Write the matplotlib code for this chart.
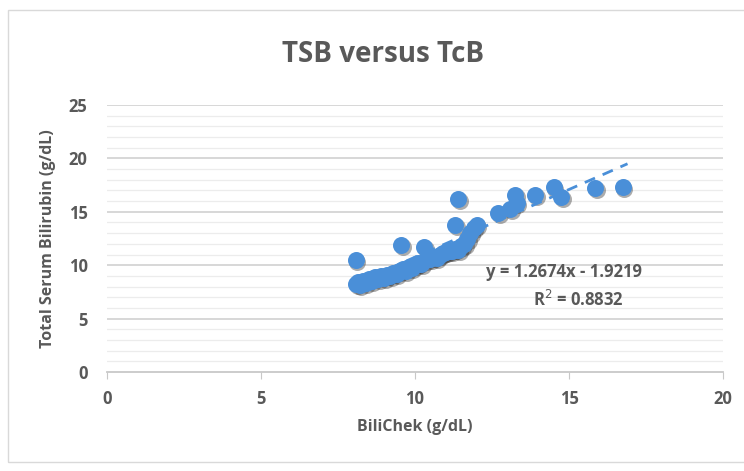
import numpy as np
import matplotlib.pyplot as plt
from matplotlib.transforms import offset_copy

# BiliChek (TcB) vs total serum bilirubin (TSB), g/dL
tcb = [8.08, 8.10, 8.15, 8.20, 8.30, 8.40, 8.50, 8.60, 8.70, 8.80, 8.90, 9.00,
       9.10, 9.20, 9.30, 9.40, 9.50, 9.55, 9.60, 9.70, 9.80, 9.90, 10.0, 10.1,
       10.2, 10.3, 10.35, 10.5, 10.6, 10.7, 10.8, 10.9, 11.0, 11.1, 11.2, 11.3,
       11.4, 11.3, 11.4, 11.5, 11.6, 11.7, 11.8, 11.9, 12.0, 12.7, 13.1, 13.25,
       13.3, 13.9, 14.5, 14.75, 15.85, 16.75]
tsb = [10.5, 8.2, 8.4, 8.1, 8.5, 8.3, 8.7, 8.5, 8.9, 8.7, 9.0, 8.8,
       9.1, 9.0, 9.3, 9.2, 9.5, 11.9, 9.6, 9.5, 9.8, 9.7, 10.0, 10.2,
       10.1, 11.7, 10.5, 10.6, 10.8, 10.7, 11.0, 11.1, 11.2, 11.3, 11.3, 11.5,
       11.4, 13.8, 16.2, 11.8, 12.0, 12.5, 13.0, 13.5, 13.8, 14.9, 15.3, 16.6,
       15.8, 16.6, 17.3, 16.4, 17.2, 17.3]

slope, intercept = 1.2674, -1.9219
trend_range = [8.0, 16.9]
xticks = [0, 5, 10, 15, 20]
yticks = [0, 5, 10, 15, 20, 25]

blue = '#4a8fd8'
gray = '#595959'
plt.rcParams['font.family'] = ['Open Sans', 'DejaVu Sans']

fig = plt.figure(figsize=(7.44, 4.71), dpi=100)
fig.patches.append(plt.Rectangle((8 / 744, 9 / 471), 1.0, 452 / 471, transform=fig.transFigure,
                                 fill=False, edgecolor='#d9d9d9', lw=1))
ax = fig.add_axes([107 / 744, 1 - 372 / 471, 616 / 744, 267 / 471])

# grid
for v in range(1, 26):
    major = v % 5 == 0
    ax.axhline(v, color='#d4d4d4' if major else '#ececec', lw=1.3 if major else 0.9, zorder=0)

# shadow + points
shadow = offset_copy(ax.transData, fig=fig, x=1.5, y=-2.0, units='dots')
ax.scatter(tcb, tsb, s=150, color='#303030', alpha=0.4, lw=0, transform=shadow, zorder=2)
ax.scatter(tcb, tsb, s=150, color=blue, lw=0, zorder=3)

xs = np.array(trend_range)
ax.plot(xs, slope * xs + intercept, color=blue, lw=2, dashes=(4, 3), zorder=4)

ax.text(14.85, 9.35, 'y = 1.2674x - 1.9219', ha='center', va='center', fontsize=12,
        color=gray, fontweight='bold')
ax.text(15.3, 6.75, 'R$^2$ = 0.8832', ha='center', va='center', fontsize=12,
        color=gray, fontweight='bold')

ax.set_xlim(0, 20)
ax.set_ylim(0, 25)
ax.set_xticks(xticks)
ax.set_yticks(yticks)
for s in ['top', 'right', 'left']:
    ax.spines[s].set_visible(False)
ax.spines['bottom'].set_color('#c8c8c8')
ax.spines['bottom'].set_linewidth(1.3)
ax.tick_params(axis='x', direction='out', length=5, color='#c8c8c8', labelsize=12,
               labelcolor=gray, pad=8)
ax.tick_params(axis='y', length=0, labelsize=12, labelcolor=gray, pad=14)
for lab in ax.get_xticklabels() + ax.get_yticklabels():
    lab.set_fontweight('bold')

ax.set_xlabel('BiliChek (g/dL)', fontsize=11.5, color=gray, fontweight='bold', labelpad=8)
ax.set_ylabel('Total Serum Bilirubin (g/dL)', fontsize=11.5, color=gray, fontweight='bold',
              labelpad=9)
fig.text(383 / 744, 1 - 55 / 471, 'TSB versus TcB', ha='center', va='center', fontsize=20,
         color=gray, fontweight='bold')

fig.savefig('out.png', dpi=100)
